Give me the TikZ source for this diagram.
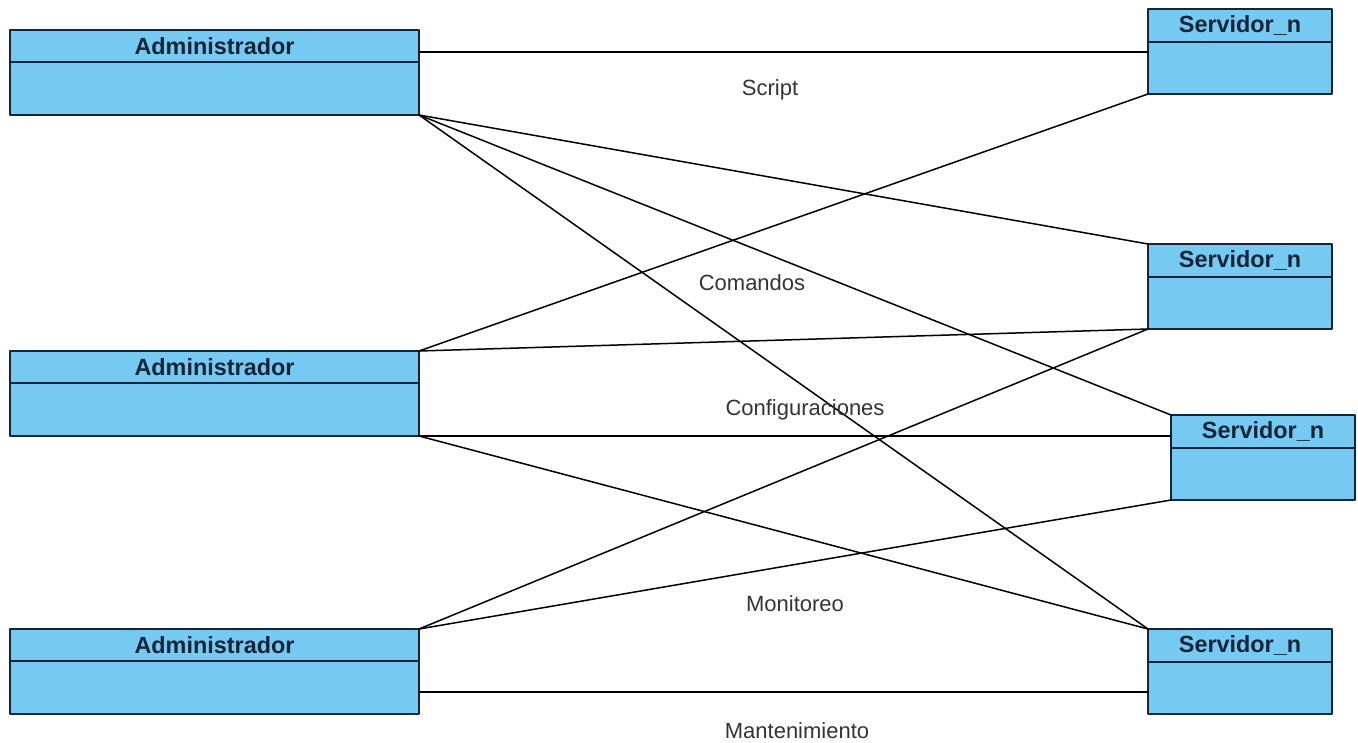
\documentclass[tikz,border=0pt]{standalone}
\usepackage{fontspec}
\setmainfont{Liberation Sans}
\usetikzlibrary{positioning}
\definecolor{cajaazul}{RGB}{118,202,241}
\definecolor{bordeazul}{RGB}{22,36,58}
\tikzset{
  cabeza/.style={draw=bordeazul, fill=cajaazul, line width=1pt, inner sep=0pt, outer sep=0pt, anchor=north west, text=bordeazul, font=\fontsize{11.7}{13}\selectfont\bfseries},
  cuerpo/.style={draw=bordeazul, fill=cajaazul, line width=1pt, inner sep=0pt, outer sep=0pt, below=0pt of #1},
  etiqueta/.style={font=\fontsize{11}{13}\selectfont, text=black!80}
}
\begin{document}
\begin{tikzpicture}[x=0.5pt, y=-0.5pt, line join=round, line cap=round]
\useasboundingbox (0,0) rectangle (1358,743);
\def\aw{204.5pt} \def\ah{16pt} \def\ab{26.5pt} % administradores
\def\sw{92pt} \def\sh{16.5pt} \def\sb{26pt} % servidores
% administradores
\node[cabeza, minimum width=\aw, minimum height=\ah] (a1) at (10,30) {Administrador};
\node[cuerpo=a1, minimum width=\aw, minimum height=\ab] (a1b) {};
\node[cabeza, minimum width=\aw, minimum height=\ah] (a2) at (10,351) {Administrador};
\node[cuerpo=a2, minimum width=\aw, minimum height=\ab] (a2b) {};
\node[cabeza, minimum width=\aw, minimum height=\ah] (a3) at (10,629) {Administrador};
\node[cuerpo=a3, minimum width=\aw, minimum height=\ab] (a3b) {};
% servidores
\node[cabeza, minimum width=\sw, minimum height=\sh] (s1) at (1148,9) {Servidor\_n};
\node[cuerpo=s1, minimum width=\sw, minimum height=\sb] (s1b) {};
\node[cabeza, minimum width=\sw, minimum height=\sh] (s2) at (1148,244) {Servidor\_n};
\node[cuerpo=s2, minimum width=\sw, minimum height=\sb] (s2b) {};
\node[cabeza, minimum width=\sw, minimum height=\sh] (s3) at (1171,415) {Servidor\_n};
\node[cuerpo=s3, minimum width=\sw, minimum height=\sb] (s3b) {};
\node[cabeza, minimum width=\sw, minimum height=\sh] (s4) at (1148,629) {Servidor\_n};
\node[cuerpo=s4, minimum width=\sw, minimum height=\sb] (s4b) {};
% conexiones
\draw[line width=0.75pt] ([yshift=-3pt]a1.east) coordinate (c1) -- (c1 -| s1b.west);
\draw[line width=0.75pt] (a2b.south east) -- (a2b.south east -| s3.west);
\draw[line width=0.75pt] ([yshift=-2.25pt]a3b.east) coordinate (c3) -- (c3 -| s4b.west);
\foreach \p/\q in {a1b.south east/s2.north west, a1b.south east/s3.north west, a1b.south east/s4.north west,
  a2.north east/s1b.south west, a2.north east/s2b.south west, a2b.south east/s4.north west,
  a3.north east/s2b.south west, a3.north east/s3b.south west}
  \draw[line width=0.75pt] (\p) -- (\q);
% etiquetas
\node[etiqueta] (lscript) at (770,90) {Script};
\node[etiqueta] (lcom) at (752,283) {Comandos};
\node[etiqueta] (lconf) at (805,410) {Configuraciones};
\node[etiqueta] (lmon) at (795,604) {Monitoreo};
\node[etiqueta] (lman) at (797,731) {Mantenimiento};
\end{tikzpicture}
\end{document}
